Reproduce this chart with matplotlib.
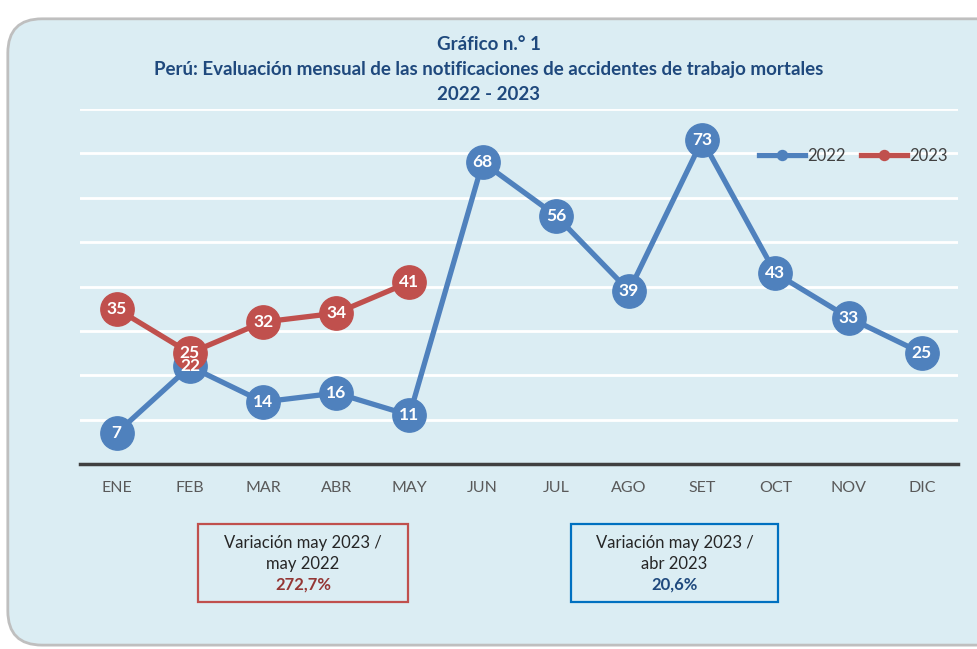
import matplotlib.pyplot as plt
from matplotlib.patches import FancyBboxPatch, Rectangle

meses = ['ENE', 'FEB', 'MAR', 'ABR', 'MAY', 'JUN', 'JUL', 'AGO', 'SET', 'OCT', 'NOV', 'DIC']
v2022 = [7, 22, 14, 16, 11, 68, 56, 39, 73, 43, 33, 25]
v2023 = [35, 25, 32, 34, 41]

azul = '#4F81BD'
rojo = '#C0504D'
fondo = '#DBEDF3'

plt.rcParams['font.family'] = ['Lato', 'DejaVu Sans']

fig = plt.figure(figsize=(9.77, 6.49), dpi=100)
fig.patch.set_facecolor('white')

# marco redondeado
marco = FancyBboxPatch((0.008, 0.006), 1.05, 0.965, boxstyle='round,pad=0,rounding_size=0.035',
                       transform=fig.transFigure, facecolor=fondo, edgecolor='#BFBFBF',
                       linewidth=2, mutation_aspect=977 / 649, zorder=-5)
fig.patches.append(marco)

ax = fig.add_axes([0.082, 0.285, 0.899, 0.547])
ax.set_facecolor('none')
x = list(range(len(meses)))

ax.plot(x, v2022, color=azul, lw=3.8, marker='o', ms=24, label='2022', zorder=3)
ax.plot(x[:len(v2023)], v2023, color=rojo, lw=3.8, marker='o', ms=24, label='2023', zorder=4)

for i, v in enumerate(v2022):
    ax.text(i, v, str(v), color='white', fontsize=12.5, fontweight='bold', ha='center', va='center', zorder=5)
for i, v in enumerate(v2023):
    ax.text(i, v, str(v), color='white', fontsize=12.5, fontweight='bold', ha='center', va='center', zorder=6)

ax.set_xlim(-0.5, 11.5)
ax.set_ylim(0, 80)
ax.set_yticks(range(10, 81, 10))
ax.yaxis.grid(True, color='white', lw=2)
ax.set_axisbelow(True)
ax.tick_params(left=False, labelleft=False, bottom=False)
ax.set_xticks(x)
ax.set_xticklabels(meses, color='#595959', fontsize=11.5)
ax.tick_params(axis='x', pad=9)
for s in ['top', 'right', 'left']:
    ax.spines[s].set_visible(False)
ax.spines['bottom'].set_color('#404040')
ax.spines['bottom'].set_linewidth(2.5)

leg = ax.legend(loc='center right', bbox_to_anchor=(0.995, 0.868), ncol=2, frameon=False, fontsize=12,
                markerscale=0.3, handlelength=2.8, columnspacing=0.9, handletextpad=0.1,
                borderaxespad=0)
for t in leg.get_texts():
    t.set_color('#404040')

# titulo
tc = '#1F497D'
fig.text(0.5, 1 - 45 / 649, 'Gráfico n.° 1', ha='center', va='center', fontsize=13.5, fontweight='bold', color=tc)
fig.text(0.5, 1 - 70 / 649, 'Perú: Evaluación mensual de las notificaciones de accidentes de trabajo mortales',
         ha='center', va='center', fontsize=13.5, fontweight='bold', color=tc)
fig.text(0.5, 1 - 95 / 649, '2022 - 2023', ha='center', va='center', fontsize=13.5, fontweight='bold', color=tc)

# cuadros de variacion
def cuadro(x0, x1, linea1, linea2, pct, borde, colpct):
    y0, y1 = 1 - 602 / 649, 1 - 524 / 649
    fig.patches.append(Rectangle((x0 / 977, y0), (x1 - x0) / 977, y1 - y0, transform=fig.transFigure,
                                 facecolor='none', edgecolor=borde, lw=1.6))
    cx = (x0 + x1) / 2 / 977
    fig.text(cx, 1 - 543 / 649, linea1, ha='center', va='center', fontsize=12, color='#262626')
    fig.text(cx, 1 - 564 / 649, linea2, ha='center', va='center', fontsize=12, color='#262626')
    fig.text(cx, 1 - 585 / 649, pct, ha='center', va='center', fontsize=12, fontweight='bold', color=colpct)

cuadro(198, 408, 'Variación may 2023 /', 'may 2022', '272,7%', rojo, '#943634')
cuadro(571, 778, 'Variación may 2023 /', 'abr 2023', '20,6%', '#0070C0', '#1F497D')

fig.savefig('out.png', dpi=100, facecolor=fig.get_facecolor())
